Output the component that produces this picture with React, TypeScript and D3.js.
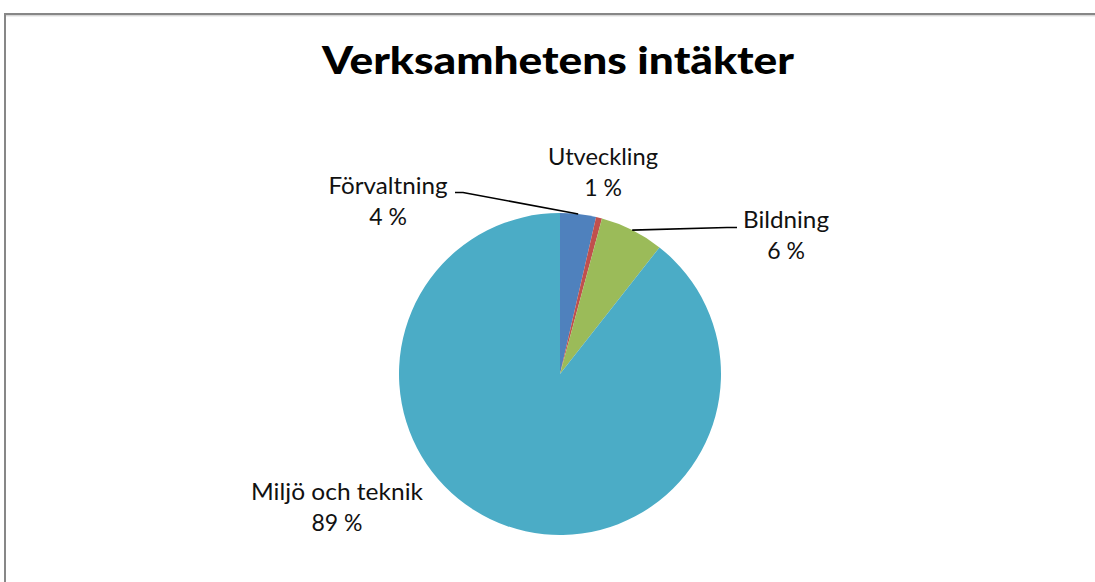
import React from "react";
import * as d3 from "d3";

const categories = ["Förvaltning", "Utveckling", "Bildning", "Miljö och teknik"];
const values = [3.6, 0.6, 6.4, 89.4];
const colors = ["#4F81BD", "#C0504D", "#9BBB59", "#4BACC6"];
const title = "Verksamhetens intäkter";

// label layout (center x, baseline of first line)
const labelPos: [number, number][] = [
  [388, 194],
  [603, 165],
  [786, 228],
  [337, 500],
];
const labelWidths = [119, 110, 86, 172];

const W = 1095;
const H = 582;
const cx = 560;
const cy = 374;
const R = 161;

export default function App() {
  const total = d3.sum(values);
  const pie = d3.pie<number>().sort(null).value((d) => d)(values);
  const arc = d3.arc<d3.PieArcDatum<number>>().innerRadius(0).outerRadius(R);
  const font = "Lato, 'Open Sans', sans-serif";

  const edgePoint = (i: number) => {
    const a = (pie[i].startAngle + pie[i].endAngle) / 2;
    return [cx + R * Math.sin(a), cy - R * Math.cos(a)];
  };

  const leaders: [number, number][][] = [];
  {
    const p = edgePoint(0);
    leaders.push([[455, 192.5], [463, 192.5], [p[0], p[1]]]);
    const q = edgePoint(2);
    leaders.push([[q[0], q[1]], [727, 227.5], [737, 227.5]]);
  }
  const line = d3.line();

  return (
    <svg
      width={W}
      height={H}
      style={{ position: "absolute", left: 0, top: 0, background: "#fff" }}
    >
      <rect x={0} y={0} width={W} height={H} fill="#fff" />
      <rect x={5} y={14} width={W + 20} height={H + 20} fill="#fff" stroke="#878787" strokeWidth={2} />
      <line x1={6} y1={15.8} x2={W} y2={15.8} stroke="#c8c8c8" strokeWidth={1} />
      <text
        x={cx - 2}
        y={74}
        textAnchor="middle"
        fontFamily={font}
        fontWeight={900}
        fontSize={37}
        fill="#000"
        textLength={472}
        lengthAdjust="spacingAndGlyphs"
      >
        {title}
      </text>
      <g transform={`translate(${cx},${cy})`}>
        {pie.map((d, i) => (
          <path key={i} d={arc(d) || ""} fill={colors[i]} />
        ))}
      </g>
      {leaders.map((l, i) => (
        <path key={i} d={line(l) || ""} fill="none" stroke="#000" strokeWidth={1.6} />
      ))}
      {categories.map((c, i) => {
        const [x, y] = labelPos[i];
        const pct = Math.round((values[i] / total) * 100);
        return (
          <g key={c} fontFamily={font} fontSize={23} fill="#111" textAnchor="middle">
            <text x={x} y={y} textLength={labelWidths[i]} lengthAdjust="spacingAndGlyphs">
              {c}
            </text>
            <text x={x} y={y + 30.5}>{`${pct} %`}</text>
          </g>
        );
      })}
    </svg>
  );
}
